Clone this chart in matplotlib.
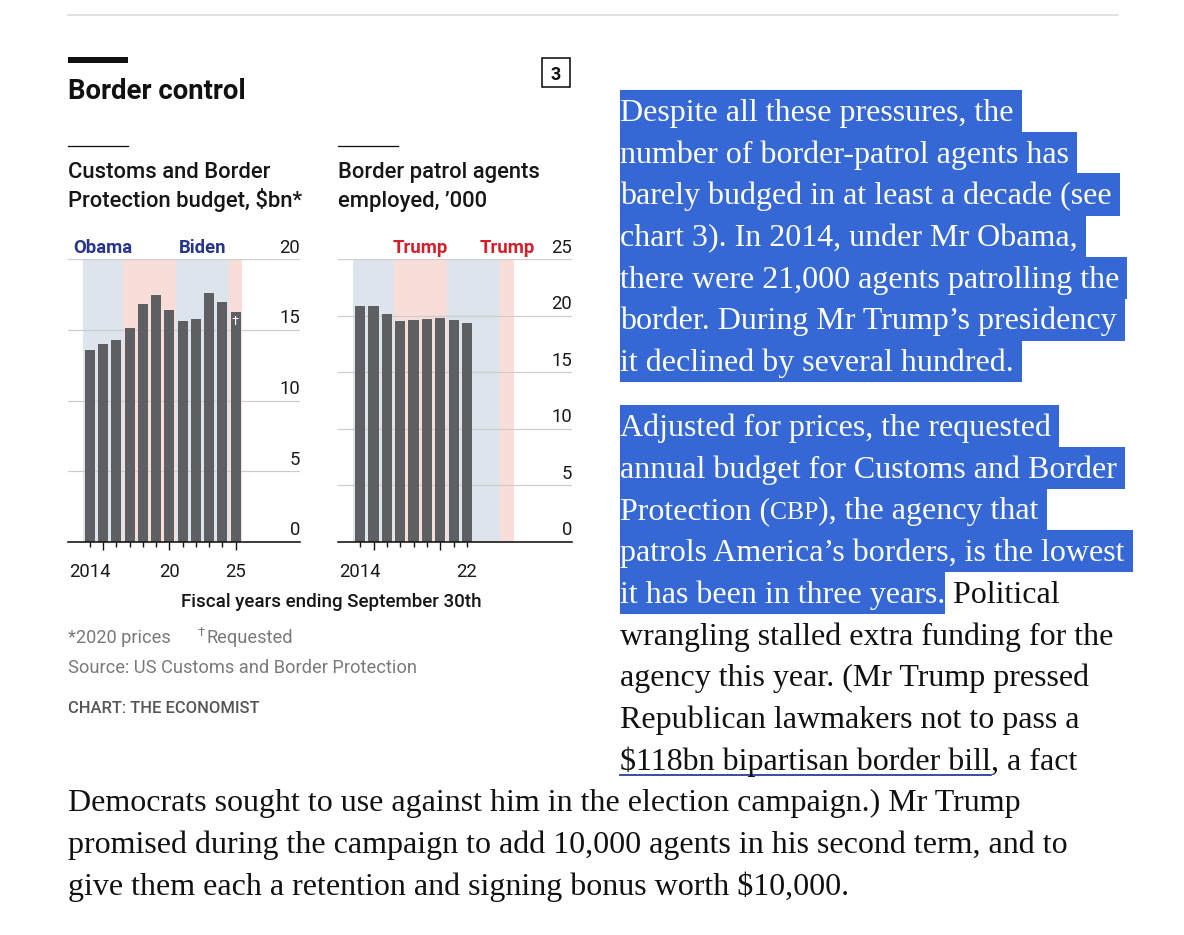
import matplotlib
matplotlib.use('Agg')
import matplotlib.pyplot as plt
from matplotlib.transforms import Affine2D, blended_transform_factory, offset_copy
from matplotlib.patches import Rectangle
from matplotlib.lines import Line2D

# ---------------- data ----------------
budget_years = list(range(2014, 2026))
budget = [13.6, 14.0, 14.3, 15.1, 16.8, 17.5, 16.4, 15.6, 15.8, 17.6, 17.0, 16.3]
agent_years = list(range(2014, 2023))
agents = [20.9, 20.9, 20.2, 19.5, 19.6, 19.7, 19.8, 19.6, 19.4]

term_start = [2014, 2017, 2021, 2025]
term_end = [2016, 2020, 2024, 2025]
term_party = ['D', 'R', 'D', 'R']
term_name = ['Obama', 'Trump', 'Biden', 'Trump']

budget_yticks = [0, 5, 10, 15, 20]
agent_yticks = [0, 5, 10, 15, 20, 25]
budget_xlabels = {2014: '2014', 2020: '20', 2025: '25'}
agent_xlabels = {2014: '2014', 2022: '22'}

title = 'Border control'
sub_left = ['Customs and Border', 'Protection budget, $bn*']
sub_right = ['Border patrol agents', 'employed, \u2019000']
xaxis_title = 'Fiscal years ending September 30th'
source = 'Source: US Customs and Border Protection'
credit = 'CHART: THE ECONOMIST'

para1 = ['Despite all these pressures, the',
         'number of border-patrol agents has',
         'barely budged in at least a decade (see',
         'chart 3). In 2014, under Mr Obama,',
         'there were 21,000 agents patrolling the',
         'border. During Mr Trump\u2019s presidency',
         'it declined by several hundred.']
bottom_lines = ['Democrats sought to use against him in the election campaign.) Mr Trump',
                'promised during the campaign to add 10,000 agents in his second term, and to',
                'give them each a retention and signing bonus worth $10,000.']

# ---------------- style ----------------
W, H, DPI = 1184, 935, 100
BAR = '#5e5f62'
BLUE = '#dde4ec'
PINK = '#f9ddd8'
GRID = '#cdcdcd'
DEM = '#27358c'
REP = '#d21f2b'
HL = '#3568d4'
SANS = ['Roboto', 'DejaVu Sans']
SERIF = ['Liberation Serif', 'DejaVu Serif']

plt.rcParams['font.family'] = SANS

fig = plt.figure(figsize=(W / DPI, H / DPI), dpi=DPI)
PX = Affine2D().scale(1 / W, -1 / H).translate(0, 1) + fig.transFigure


def P(v):
    return v * 72.0 / DPI


def ftext(x, y, s, size, **kw):
    kw.setdefault('va', 'baseline')
    kw.setdefault('color', '#161616')
    return fig.text(x, y, s, transform=PX, fontsize=P(size), **kw)


def add_axes(x0, x1, y0, y1):
    return fig.add_axes([x0 / W, 1 - y1 / H, (x1 - x0) / W, (y1 - y0) / H])


def panel(ax, xs, vals, yticks, xlabels, label_party, last_year):
    ymax = yticks[-1]
    ax.set_xlim(2012.34, 2029.87)
    ax.set_ylim(0, ymax)
    lab_tr = offset_copy(ax.transData, fig, y=6.6, units='dots')
    for s, e, p, n in zip(term_start, term_end, term_party, term_name):
        ax.axvspan(s - 0.5, e + 0.5, color=BLUE if p == 'D' else PINK, lw=0, zorder=0)
        if p == label_party:
            ax.text((s + e) / 2, ymax, n, transform=lab_tr, ha='center', va='baseline',
                    color=DEM if p == 'D' else REP, fontweight='bold', fontsize=P(18.5),
                    clip_on=False)
    ax.bar(xs, vals, width=0.76, color=BAR, zorder=2, lw=0)
    ax.set_yticks(yticks)
    ax.set_axisbelow(True)
    ax.yaxis.grid(True, color=GRID, lw=P(1.2))
    ax.xaxis.grid(False)
    ax.tick_params(axis='y', length=0, labelleft=False, labelright=False)
    ytr = offset_copy(blended_transform_factory(ax.transAxes, ax.transData), fig, y=6.6, units='dots')
    for t in yticks:
        ax.text(1.0, t, str(t), transform=ytr, ha='right', va='baseline',
                fontsize=P(18.5), color='#1a1a1a', clip_on=False)
    majors = [y for y in range(xs[0], last_year + 1) if y % 5 == 0]
    minors = [y for y in range(xs[0], last_year + 1) if y % 5 != 0]
    ax.set_xticks(majors)
    ax.set_xticks(minors, minor=True)
    ax.tick_params(axis='x', which='major', length=P(8), width=P(1.4), direction='out',
                   color='#111111', labelbottom=False)
    ax.tick_params(axis='x', which='minor', length=P(5), width=P(1.4), direction='out',
                   color='#111111', labelbottom=False)
    xtr = offset_copy(ax.transData, fig, y=-35, units='dots')
    for x, l in xlabels.items():
        ax.text(x, 0, l, transform=xtr, ha='center', va='baseline', fontsize=P(18.5),
                color='#1a1a1a', clip_on=False)
    for sp in ['top', 'left', 'right']:
        ax.spines[sp].set_visible(False)
    ax.spines['bottom'].set_color('#111111')
    ax.spines['bottom'].set_linewidth(P(1.6))
    ax.patch.set_alpha(0)


axL = add_axes(68, 300, 259.3, 541.7)
panel(axL, budget_years, budget, budget_yticks, budget_xlabels, 'D', budget_years[-1])
axL.text(budget_years[-1], budget[-1], '\u2020', transform=offset_copy(axL.transData, fig, y=-3, units='dots'),
         ha='center', va='top', color='white', fontsize=P(13), zorder=3)

axR = add_axes(338, 572, 259.3, 541.7)
panel(axR, agent_years, agents, agent_yticks, agent_xlabels, 'R', agent_years[-1])

# ---------------- chart furniture ----------------
fig.add_artist(Line2D([68, 1118], [15, 15], transform=PX, color='#d8d8d8', lw=P(1.5)))
fig.add_artist(Rectangle((68, 57), 60, 6, transform=PX, color='#111111', lw=0))
ftext(68, 99.3, title, 27.5, fontweight='bold', color='#111111')
fig.add_artist(Rectangle((542, 58.3), 28, 28.4, transform=PX, fill=False, ec='#111111', lw=P(1.6)))
ftext(556, 72.5, '3', 18, fontweight='bold', ha='center', va='center_baseline', color='#111111')

fig.add_artist(Line2D([68, 128], [146, 146], transform=PX, color='#111111', lw=P(1.3)))
fig.add_artist(Line2D([338, 398], [146, 146], transform=PX, color='#111111', lw=P(1.3)))
for i, (l, r) in enumerate(zip(sub_left, sub_right)):
    ftext(68, 178.3 + 28.4 * i, l, 22.0, fontweight='medium')
    ftext(338, 178.3 + 28.4 * i, r, 22.0, fontweight='medium')

ftext(331, 607.3, xaxis_title, 18.8, ha='center', fontweight='medium')
ftext(68, 643.3, '*2020 prices', 18.3, color='#7a7a7a')
ftext(198, 636.5, '\u2020', 13, color='#7a7a7a')
ftext(206.5, 643.3, 'Requested', 18.3, color='#7a7a7a')
ftext(68, 672.7, source, 18.3, color='#7a7a7a')
ftext(68, 713.3, credit, 16.5, color='#555555', fontweight='medium')

# ---------------- article text ----------------
renderer = fig.canvas.get_renderer()
FS = 32.0


def adv(s, size):
    a = fig.text(0, 0, '|' + s + '|', fontsize=P(size), family=SERIF)
    b = fig.text(0, 0, '||', fontsize=P(size), family=SERIF)
    w = a.get_window_extent(renderer).width - b.get_window_extent(renderer).width
    a.remove()
    b.remove()
    return w


def seg_line(x, base, segs):
    for s, kind in segs:
        size = FS * 0.8 if 'sc' in kind else FS
        w = adv(s, size)
        if 'hl' in kind:
            fig.add_artist(Rectangle((x, base - 31.2), w, 42.3, transform=PX, color=HL,
                                     lw=0, antialiased=False, zorder=1))
            col = 'white'
        else:
            col = '#111111'
        fig.text(x, base, s, transform=PX, fontsize=P(size), family=SERIF, color=col,
                 va='baseline', zorder=2)
        if 'link' in kind:
            fig.add_artist(Line2D([x, x + w], [base + 5, base + 5], transform=PX,
                                  color='#2b3aa6', lw=P(1.8)))
        x += w


base1 = 121.0
for i, line in enumerate(para1):
    seg_line(620, base1 + 41.7 * i, [(line + ' ', 'hl')])

base2 = 436.0
para2 = [
    [('Adjusted for prices, the requested ', 'hl')],
    [('annual budget for Customs and Border ', 'hl')],
    [('Protection (', 'hl'), ('CBP', 'hl sc'), ('), the agency that ', 'hl')],
    [('patrols America\u2019s borders, is the lowest ', 'hl')],
    [('it has been in three years.', 'hl'), (' Political', 'plain')],
    [('wrangling stalled extra funding for the', 'plain')],
    [('agency this year. (Mr Trump pressed', 'plain')],
    [('Republican lawmakers not to pass a', 'plain')],
    [('$118bn bipartisan border bill', 'link'), (', a fact', 'plain')],
]
for i, segs in enumerate(para2):
    seg_line(620, base2 + 41.7 * i, segs)

base3 = base2 + 41.7 * len(para2)
for i, line in enumerate(bottom_lines):
    seg_line(68, base3 + 41.7 * i, [(line, 'plain')])

fig.savefig('out.png', dpi=DPI, facecolor='white')
